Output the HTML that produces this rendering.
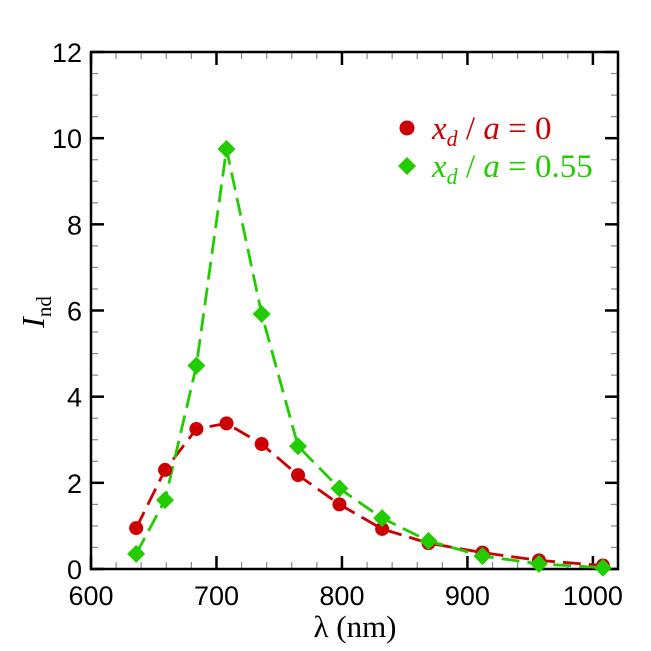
<!DOCTYPE html>
<html><head><meta charset="utf-8">
<style>body{margin:0;background:#fff}svg{display:block}</style></head>
<body>
<svg id="chart" width="651" height="651" viewBox="0 0 651 651" xmlns="http://www.w3.org/2000/svg" font-family="Liberation Sans, sans-serif">
<rect x="0" y="0" width="651" height="651" fill="#fff"/>
<g id="axes"></g>
<g id="series"></g>
<text x="355" y="637" text-anchor="middle" font-family="Liberation Serif, serif" font-size="31">λ (nm)</text>
<text transform="translate(44,312) rotate(-90)" text-anchor="middle" font-family="Liberation Serif, serif" font-size="32"><tspan font-style="italic">I</tspan><tspan font-size="21" dy="7">nd</tspan></text>
<g>
<circle cx="407" cy="128" r="7.5" fill="#cc0000"/>
<text x="432" y="139" fill="#cc0000" font-family="Liberation Serif, serif" font-size="33"><tspan font-style="italic">x</tspan><tspan font-style="italic" font-size="22" dy="7">d</tspan><tspan dy="-7"> / </tspan><tspan font-style="italic">a</tspan> = 0</text>
<path d="M407,157 L416,166 L407,175 L398,166Z" fill="#22cc00"/>
<text x="432" y="177" fill="#22cc00" font-family="Liberation Serif, serif" font-size="33"><tspan font-style="italic">x</tspan><tspan font-style="italic" font-size="22" dy="7">d</tspan><tspan dy="-7"> / </tspan><tspan font-style="italic">a</tspan> = 0.55</text>
</g>
</svg>
<script>
const wavelengths = [636,659,684,708,736,765,798,832,869,912,957,1008];
const redValues = [0.95,2.3,3.25,3.38,2.9,2.18,1.5,0.93,0.6,0.38,0.2,0.08];
const greenValues = [0.35,1.6,4.72,9.75,5.92,2.85,1.87,1.18,0.65,0.3,0.12,0.03];
const xTicks = [600,700,800,900,1000];
const yTicks = [0,2,4,6,8,10,12];
const L=91,R=618,T=52,B=569, xmin=600,xmax=1020,ymin=0,ymax=12;
const sx=v=>L+(v-xmin)/(xmax-xmin)*(R-L);
const sy=v=>B-(v-ymin)/(ymax-ymin)*(B-T);
const NS='http://www.w3.org/2000/svg';
function mk(tag,attrs,parent){const e=document.createElementNS(NS,tag);for(const k in attrs)e.setAttribute(k,attrs[k]);parent.appendChild(e);return e;}
const ax=document.getElementById('axes'), se=document.getElementById('series');
for(let v=600;v<=1020;v+=20){const major=v%100===0;const x=sx(v);
 let t=mk('line',{x1:x,x2:x,y1:B,y2:B-(major?13:7),stroke:major?'#000':'#888','stroke-width':major?2.5:1.2},ax);
 
 t=mk('line',{x1:x,x2:x,y1:T,y2:T+(major?13:7),stroke:major?'#000':'#888','stroke-width':major?2.5:1.2},ax);
 }
for(let v=0;v<=12;v+=0.5){const major=v%2===0;const y=sy(v);
 let t=mk('line',{x1:L,x2:L+(major?13:7),y1:y,y2:y,stroke:major?'#000':'#888','stroke-width':major?2.5:1.2},ax);
 
 t=mk('line',{x1:R,x2:R-(major?13:7),y1:y,y2:y,stroke:major?'#000':'#888','stroke-width':major?2.5:1.2},ax);
 }
xTicks.forEach(v=>{const t=mk('text',{x:sx(v),y:B+36,'text-anchor':'middle','font-size':27},ax);t.textContent=v;
 });
yTicks.forEach(v=>{const t=mk('text',{x:L-9,y:sy(v)+10,'text-anchor':'end','font-size':27},ax);t.textContent=v;
 });
const fr=mk('rect',{x:L,y:T,width:R-L,height:B-T,fill:'none',stroke:'#000','stroke-width':2.5},ax);

function poly(xs,ys){return xs.map((x,i)=>(i?'L':'M')+sx(x)+','+sy(ys[i])).join(' ');}
let pr=mk('path',{d:poly(wavelengths,redValues),fill:'none',stroke:'#cc0000','stroke-width':2.8,'stroke-dasharray':'18,8','stroke-linejoin':'round'},se);

let pg=mk('path',{d:poly(wavelengths,greenValues),fill:'none',stroke:'#22cc00','stroke-width':2.8,'stroke-dasharray':'18,8','stroke-linejoin':'round'},se);

wavelengths.forEach((w,i)=>{const c=mk('circle',{cx:sx(w),cy:sy(redValues[i]),r:7,fill:'#cc0000'},se);
 });
wavelengths.forEach((w,i)=>{const x=sx(w),y=sy(greenValues[i]);const d=mk('path',{d:`M${x},${y-9} L${x+9},${y} L${x},${y+9} L${x-9},${y}Z`,fill:'#22cc00'},se);
 });
</script>
</body></html>
